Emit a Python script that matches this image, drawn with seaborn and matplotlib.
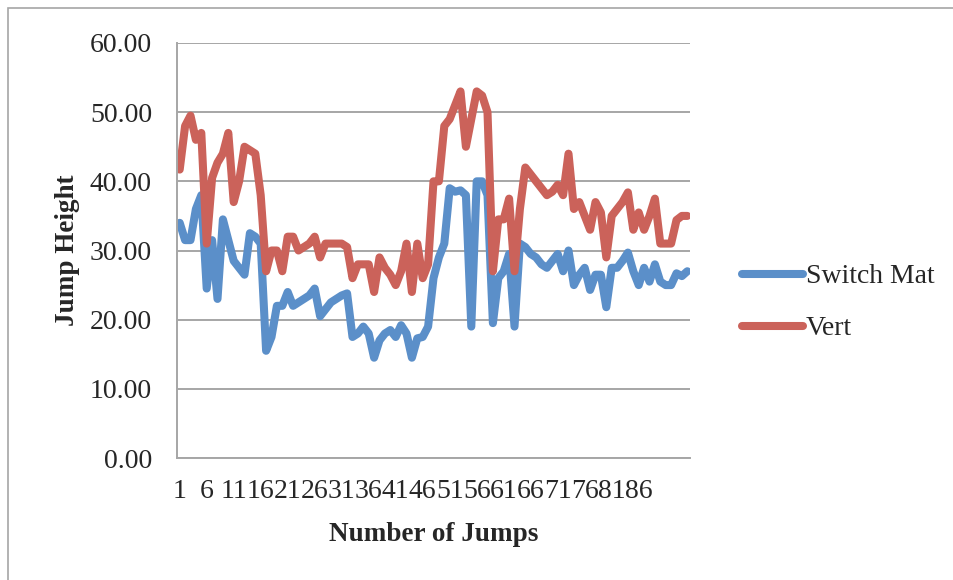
import numpy as np
import pandas as pd
import seaborn as sns
import matplotlib.pyplot as plt
from matplotlib.patches import Rectangle

switch_mat = [34, 31.5, 31.5, 36, 38, 24.5, 31.5, 23, 34.5, 31.5,
              28.5, 27.5, 26.5, 32.5, 32, 31, 15.5, 17.5, 22, 22,
              24, 22, 22.5, 23, 23.5, 24.5, 20.5, 21.5, 22.5, 23,
              23.5, 23.8, 17.5, 18, 19, 18, 14.5, 17, 18, 18.5,
              17.5, 19.2, 18, 14.5, 17.3, 17.5, 19, 26, 29, 31,
              39, 38.5, 38.7, 38, 19, 40, 40, 38, 19.5, 26,
              27, 29.5, 19, 31, 30.5, 29.5, 29, 28, 27.5, 28.5,
              29.5, 27, 30, 25, 26.5, 27.5, 24.3, 26.5, 26.5, 21.8,
              27.5, 27.5, 28.5, 29.7, 27, 25, 27.5, 25.5, 28, 25.5,
              25, 25, 26.7, 26.3, 27]
vert = [41.7, 48, 49.5, 46, 47, 31, 40.5, 42.7, 44, 47,
        37, 40, 45, 44.5, 44, 38, 27, 30, 30, 27,
        32, 32, 30, 30.5, 31, 32, 29, 31, 31, 31,
        31, 30.5, 26, 28, 28, 28, 24, 29, 27.5, 26.5,
        25, 27, 31, 24, 31, 26, 28, 40, 40, 48,
        49, 51, 53, 45, 49, 53, 52.4, 50, 27, 34.5,
        34.5, 37.5, 27, 36, 42, 41, 40, 39, 38, 38.5,
        39.5, 38, 44, 36, 37, 35, 33, 37, 35.5, 29,
        35, 36, 37, 38.4, 33, 35.5, 33, 35, 37.5, 31,
        31, 31, 34.4, 35, 35]
jumps = list(range(1, len(vert) + 1))
series_names = ["Switch Mat", "Vert"]
y_ticks = [0, 10, 20, 30, 40, 50, 60]
x_tick_labels = list(range(1, 87, 5))

df = pd.DataFrame({"jump": jumps * 2,
                   "height": switch_mat + vert,
                   "series": [series_names[0]] * len(jumps) + [series_names[1]] * len(jumps)})

sns.set_style("white")
plt.rcParams['font.family'] = ['Liberation Serif', 'DejaVu Serif']

fig = plt.figure(figsize=(9.54, 5.80), dpi=100)
ax = fig.add_axes([177 / 954, 1 - 458 / 580, (690 - 177) / 954, (458 - 43) / 580])

palette = {"Switch Mat": "#5b8fc9", "Vert": "#cb625a"}
sns.lineplot(data=df, x="jump", y="height", hue="series", palette=palette,
             linewidth=5.8, ax=ax, legend=True)
for line in ax.get_lines():
    line.set_solid_capstyle('round')
    line.set_solid_joinstyle('round')

grid_c = "#a6a6a6"
ax.set_ylim(0, 60)
ax.set_xlim(0.5, len(jumps) + 0.5)
ax.set_yticks(y_ticks)
ax.set_yticklabels([f"{v:.2f}" for v in y_ticks], fontsize=20)
ax.set_xticks(x_tick_labels)
ax.set_xticklabels([str(v) for v in x_tick_labels], fontsize=20)
ax.set_xticks(np.arange(0.5, len(jumps) + 1, 1), minor=True)
ax.tick_params(axis='x', which='major', length=0, pad=15)
ax.tick_params(axis='x', which='minor', length=4, width=1, color=grid_c, direction='out')
ax.tick_params(axis='y', which='major', length=5, width=1.2, color=grid_c, direction='out', pad=13)
ax.yaxis.grid(True, color=grid_c, linewidth=1.4)
ax.set_axisbelow(True)
for s in ['top', 'right']:
    ax.spines[s].set_visible(False)
for s in ['left', 'bottom']:
    ax.spines[s].set_color(grid_c)
    ax.spines[s].set_linewidth(1.4)

ax.set_xlabel("Number of Jumps", fontsize=19.5, fontweight='bold', labelpad=13)
ax.set_ylabel("Jump Height", fontsize=19.5, fontweight='bold', labelpad=7)

handles, labels = ax.get_legend_handles_labels()
ax.get_legend().remove()
leg = fig.legend(handles, labels, loc='upper left',
                 bbox_to_anchor=(742 / 954, 1 - 264 / 580), bbox_transform=fig.transFigure,
                 frameon=False, fontsize=20, handlelength=2.2, handletextpad=0.1,
                 labelspacing=0.95, borderpad=0, borderaxespad=0)
for h in leg.get_lines():
    h.set_linewidth(5.8)
    h.set_solid_capstyle('round')

fig.patches.append(Rectangle((8 / 954, -0.2), 1.2, 1 - 8 / 580 + 0.2,
                             transform=fig.transFigure, fill=False,
                             edgecolor="#a6a6a6", linewidth=1.2))

fig.savefig("out.png", dpi=100)
